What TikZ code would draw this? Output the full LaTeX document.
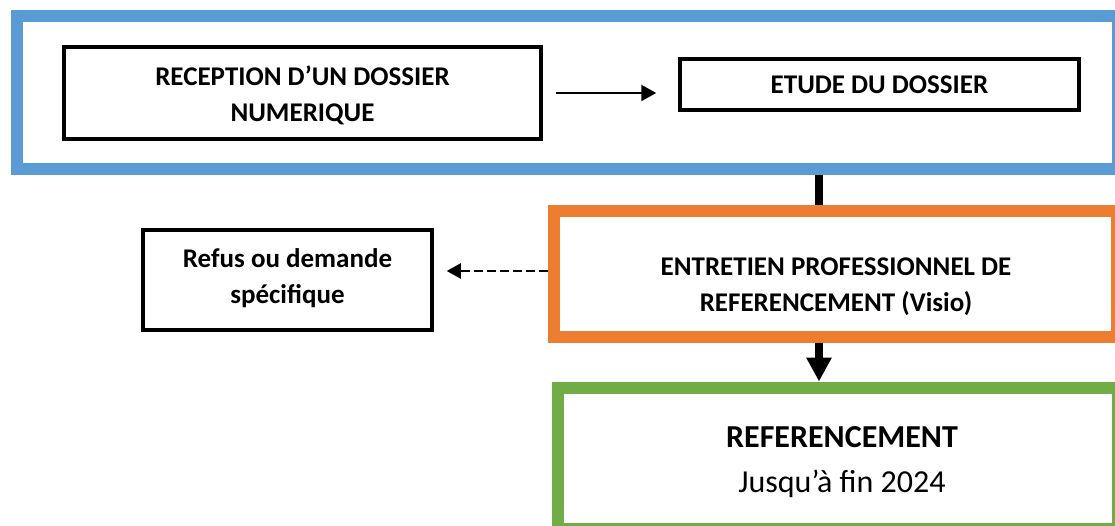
\documentclass[tikz,border=0pt]{standalone}
\usepackage{fontspec}
\setmainfont{Carlito}
\usetikzlibrary{arrows.meta}
\definecolor{oblue}{HTML}{5B9BD5}
\definecolor{oorange}{HTML}{ED7D31}
\definecolor{ogreen}{HTML}{70AD47}
\begin{document}
\begin{tikzpicture}[x=1pt,y=-1pt,
  frame/.style={draw, line width=12pt, fill=white, inner sep=0pt, align=center},
  boxfont/.style={font=\bfseries\fontsize{27}{36}\selectfont},
  box/.style={draw=black, line width=3.5pt, fill=white, inner sep=0pt, align=center, boxfont},
  thinarrow/.style={line width=2.2pt, -{Triangle[length=15pt,width=16pt]}},
  dasharrow/.style={line width=2.4pt, dash pattern=on 9pt off 4pt, -{Triangle[length=14pt,width=15pt]}},
  thickline/.style={line width=8pt},
  thickarrow/.style={line width=8pt, -{Triangle[length=24pt,width=24pt]}}
]
\clip (0,0) rectangle (1115,526);
\useasboundingbox (0,0) rectangle (1115,526);

\node[frame, draw=oblue, minimum width=1101pt, minimum height=153pt] (blue) at (567,93) {};
\node[box, minimum width=477pt, minimum height=92pt] (recep) at (302.5,93) {};
\node[boxfont, align=center] (recepl) at (302.5,95)
  {RECEPTION D’UN DOSSIER\\NUMERIQUE};
\node[box, minimum width=399pt, minimum height=51pt] (etude) at (879.5,84.5)
  {ETUDE DU DOSSIER};

\node[frame, draw=oorange, minimum width=563pt, minimum height=126pt] (orange) at (835.5,274) {};
\node[boxfont, align=center] (entl) at (836,287)
  {ENTRETIEN PROFESSIONNEL DE\\REFERENCEMENT (Visio)};

\node[box, minimum width=289pt, minimum height=100pt] (refus) at (287.5,280) {};
\node[boxfont, align=center] (refusl) at (287.5,278)
  {Refus ou demande\\spécifique};

\node[frame, draw=ogreen, minimum width=560pt, minimum height=141pt] (green) at (838,458) {};
\node[align=center, font=\fontsize{32}{45}\selectfont] (refl) at (842,462)
  {\textbf{REFERENCEMENT}\\Jusqu’à fin 2024};

\coordinate (vx) at (819,0);
\coordinate (d) at ([yshift=3pt]orange.west);

\draw[thinarrow, shorten <=13pt, shorten >=22pt] (recep.east) -- (recep.east -| etude.west);
\draw[thickline] (blue.south -| vx) -- (orange.north -| vx);
\draw[thickarrow] (orange.south -| vx) -- (green.north -| vx);
\draw[dasharrow, shorten >=13pt] (d) -- (d -| refus.east);
\end{tikzpicture}
\end{document}
